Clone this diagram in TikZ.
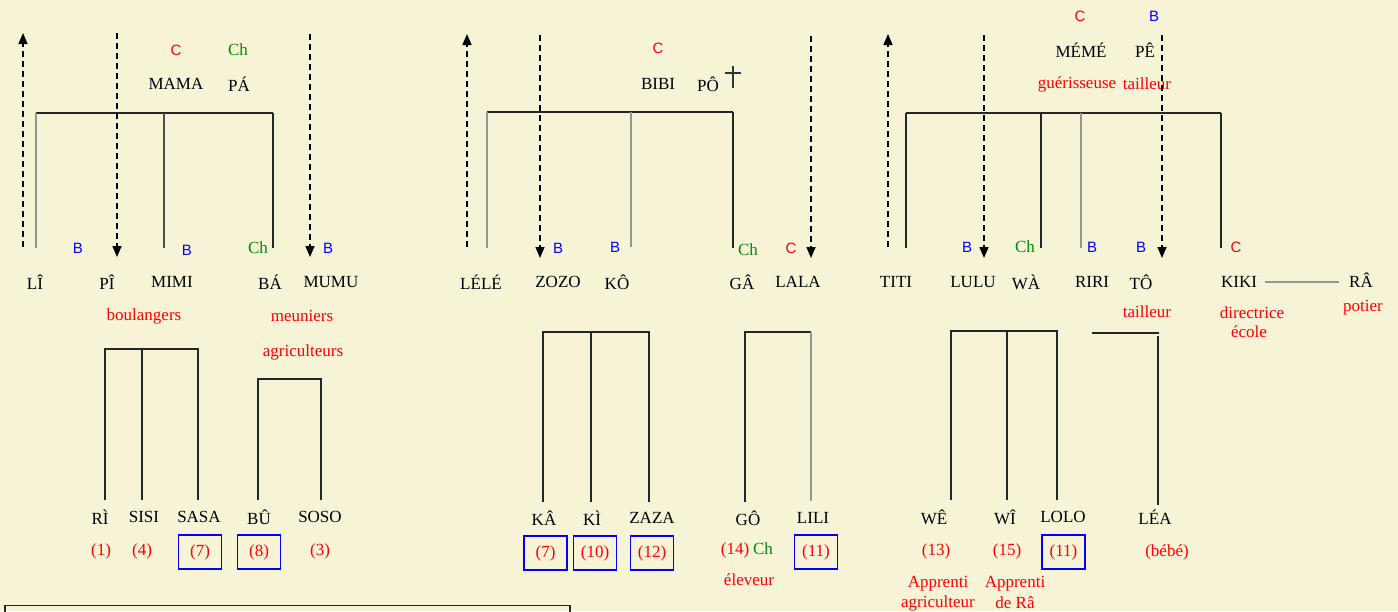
\documentclass[tikz,border=0pt]{standalone}
\usepackage{fontspec}
\setmainfont{Liberation Serif}
\newfontfamily\lsans{Liberation Sans}
\usetikzlibrary{arrows.meta}
\definecolor{bgc}{RGB}{246,243,215}
\definecolor{grn}{RGB}{0,140,0}
\definecolor{lgray}{RGB}{150,150,145}
\begin{document}
\begin{tikzpicture}[x=1pt,y=-1pt,
  txt/.style={inner sep=0pt,font=\fontsize{17}{20}\selectfont},
  nm/.style={txt,text=black},
  job/.style={txt,text=red},
  lc/.style={inner sep=0pt,font=\lsans\fontsize{15}{18}\selectfont,text=red},
  lb/.style={inner sep=0pt,font=\lsans\fontsize{15}{18}\selectfont,text=blue},
  lch/.style={txt,text=grn},
  num/.style={txt,text=red},
  numbox/.style={txt,text=red,draw=blue,line width=1.6pt,minimum width=43pt,minimum height=34pt},
  tree/.style={line width=1.6pt,draw=black!85},
  treeg/.style={line width=1.6pt,draw=lgray},
  dasharr/.style={line width=1.5pt,dash pattern=on 6pt off 4pt,-{Triangle[length=11pt,width=9pt]}},
]
\fill[bgc] (0,0) rectangle (1398,611);
\useasboundingbox (0,0) rectangle (1398,611);

%%%%%%%%%%%% Family 1
\node[lc] (c1) at (176,50) {C};
\node[lch] (ch1) at (238,50) {Ch};
\node[nm] (mama) at (176,84) {MAMA};
\node[nm] (pa) at (239,84) {PÁ};
\coordinate (f1a) at (36,113);
\coordinate (f1b) at (164,113);
\coordinate (f1c) at (273,113);
\draw[tree] (f1a) -- (f1c);
\draw[treeg] (f1a) -- (36,248);
\draw[tree,draw=black!70] (f1b) -- (164,248);
\draw[tree] (f1c) -- (273,248);
\coordinate (a1s) at (23,247); \coordinate (a1e) at (23,33);
\coordinate (a2s) at (117,33); \coordinate (a2e) at (117,257);
\coordinate (a3s) at (310,34); \coordinate (a3e) at (310,257);
\draw[dasharr] (a1s) -- (a1e);
\draw[dasharr] (a2s) -- (a2e);
\draw[dasharr] (a3s) -- (a3e);
\node[lb] (b11) at (78,248) {B};
\node[lb] (b12) at (187,250) {B};
\node[lch] (ch12) at (258,248) {Ch};
\node[lb] (b13) at (328,248) {B};
\node[nm] (li) at (35,282) {LÎ};
\node[nm] (pi) at (107,282) {PÎ};
\node[nm] (mimi) at (172,282) {MIMI};
\node[nm] (ba) at (270,282) {BÁ};
\node[nm] (mumu) at (331,282) {MUMU};
\node[job] (boul) at (144,316) {boulangers};
\node[job] (meun) at (302,316) {meuniers};
\node[job] (agri) at (303,352) {agriculteurs};
\draw[tree] (105,500) -- (105,349) -- (198,349) -- (198,500);
\draw[tree] (142,349) -- (142,500);
\draw[tree] (258,500) -- (258,379) -- (321,379) -- (321,500);
\node[nm] (ri) at (100,517) {RÌ};
\node[nm] (sisi) at (144,517) {SISI};
\node[nm] (sasa) at (199,517) {SASA};
\node[nm] (bu) at (259,517) {BÛ};
\node[nm] (soso) at (320,517) {SOSO};
\node[num] (n1) at (101,551) {(1)};
\node[num] (n4) at (142,551) {(4)};
\node[numbox] (n7a) at (200,552) {(7)};
\node[numbox] (n8) at (259,552) {(8)};
\node[num] (n3) at (320,551) {(3)};
\draw[line width=1.5pt,draw=black!85] (5,625) -- (5,605.5) -- (570,605.5) -- (570,625);

%%%%%%%%%%%% Family 2
\node[lc] (c2) at (658,48) {C};
\node[nm] (bibi) at (658,84) {BIBI};
\node[nm] (po) at (708,84) {PÔ};
\coordinate (dg1) at (733,66); \coordinate (dg2) at (733,88);
\draw[line width=1.6pt,draw=black!80] (dg1) -- (dg2) (725,73) -- (741,73);
\coordinate (f2a) at (487,112);
\coordinate (f2b) at (631,112);
\coordinate (f2c) at (733,112);
\draw[tree] (f2a) -- (f2c);
\draw[treeg] (f2a) -- (487,248);
\draw[treeg] (f2b) -- (631,247);
\draw[tree] (f2c) -- (733,248);
\coordinate (a4s) at (467,247); \coordinate (a4e) at (467,34);
\coordinate (a5s) at (540,35); \coordinate (a5e) at (540,258);
\coordinate (a6s) at (811,36); \coordinate (a6e) at (811,258);
\draw[dasharr] (a4s) -- (a4e);
\draw[dasharr] (a5s) -- (a5e);
\draw[dasharr] (a6s) -- (a6e);
\node[lb] (b21) at (558,248) {B};
\node[lb] (b22) at (615,247) {B};
\node[lch] (ch2) at (748,250) {Ch};
\node[lc] (c22) at (791,248) {C};
\node[nm] (lele) at (481,282) {LÉLÉ};
\node[nm] (zozo) at (558,282) {ZOZO};
\node[nm] (ko) at (617,282) {KÔ};
\node[nm] (ga) at (742,282) {GÂ};
\node[nm] (lala) at (798,282) {LALA};
\draw[tree] (543,502) -- (543,332) -- (649,332) -- (649,502);
\draw[tree] (591,332) -- (591,502);
\draw[tree] (745,502) -- (745,332) -- (811,332);
\draw[treeg] (811,332) -- (811,501);
\node[nm] (ka) at (544,518) {KÂ};
\node[nm] (ki) at (592,518) {KÌ};
\node[nm] (zaza) at (652,518) {ZAZA};
\node[nm] (go) at (748,518) {GÔ};
\node[nm] (lili) at (813,518) {LILI};
\node[numbox] (n7b) at (545.5,553) {(7)};
\node[numbox] (n10) at (595,553) {(10)};
\node[numbox] (n12) at (652,553) {(12)};
\node[num] (n14) at (735,550) {(14)};
\node[lch] (ch14) at (763,549) {Ch};
\node[numbox] (n11a) at (816,552) {(11)};
\node[job] (elev) at (749,580) {éleveur};

%%%%%%%%%%%% Family 3
\node[lc] (c3) at (1080,16) {C};
\node[lb] (b3) at (1154,16) {B};
\node[nm] (meme) at (1081,50) {MÉMÉ};
\node[nm] (pe) at (1145,50) {PÊ};
\node[job] (guer) at (1077,84) {guérisseuse};
\node[job] (tail1) at (1147,84) {tailleur};
\coordinate (f3a) at (906,113);
\coordinate (f3b) at (1041,113);
\coordinate (f3c) at (1081,113);
\coordinate (f3d) at (1221,113);
\draw[tree] (f3a) -- (f3d);
\draw[tree] (f3a) -- (906,248);
\draw[tree] (f3b) -- (1041,248);
\draw[treeg] (f3c) -- (1081,248);
\draw[tree] (f3d) -- (1221,248);
\coordinate (a7s) at (888,247); \coordinate (a7e) at (888,34);
\coordinate (a8s) at (984,35); \coordinate (a8e) at (984,258);
\coordinate (a9s) at (1162,35); \coordinate (a9e) at (1162,258);
\draw[dasharr] (a7s) -- (a7e);
\draw[dasharr] (a8s) -- (a8e);
\draw[dasharr] (a9s) -- (a9e);
\node[lb] (b31) at (967,247) {B};
\node[lch] (ch3) at (1025,247) {Ch};
\node[lb] (b32) at (1092,247) {B};
\node[lb] (b33) at (1141,247) {B};
\node[lc] (c33) at (1236,247) {C};
\node[nm] (titi) at (896,282) {TITI};
\node[nm] (lulu) at (973,282) {LULU};
\node[nm] (wa) at (1026,282) {WÀ};
\node[nm] (riri) at (1092,282) {RIRI};
\node[nm] (to) at (1141,282) {TÔ};
\node[nm] (kiki) at (1239,282) {KIKI};
\node[nm] (ra) at (1361,280) {RÂ};
\draw[line width=1.3pt,draw=lgray] (kiki.east) ++(8pt,0) -- ([xshift=-10pt]ra.west |- kiki.east);
\node[job] (tail2) at (1147,312) {tailleur};
\node[job] (dir) at (1252,313) {directrice};
\node[job] (eco) at (1249,332) {école};
\node[job] (pot) at (1363,308) {potier};
\draw[tree] (951,500) -- (951,331) -- (1057,331) -- (1057,500);
\draw[tree] (1007,331) -- (1007,500);
\draw[tree] (1092,333) -- (1159,333);
\draw[tree] (1158,336) -- (1158,505);
\node[nm] (we) at (934,517) {WÊ};
\node[nm] (wi) at (1005,517) {WÎ};
\node[nm] (lolo) at (1063,517) {LOLO};
\node[nm] (lea) at (1155,517) {LÉA};
\node[num] (n13) at (936,551) {(13)};
\node[num] (n15) at (1007,551) {(15)};
\node[numbox] (n11b) at (1063.5,552) {(11)};
\node[num] (bebe) at (1167,552) {(bébé)};
\node[job] (app1) at (938,584) {Apprenti};
\node[job] (agr1) at (938,603) {agriculteur};
\node[job] (app2) at (1015,584) {Apprenti};
\node[job] (dera) at (1015,603) {de Râ};
\end{tikzpicture}
\end{document}
